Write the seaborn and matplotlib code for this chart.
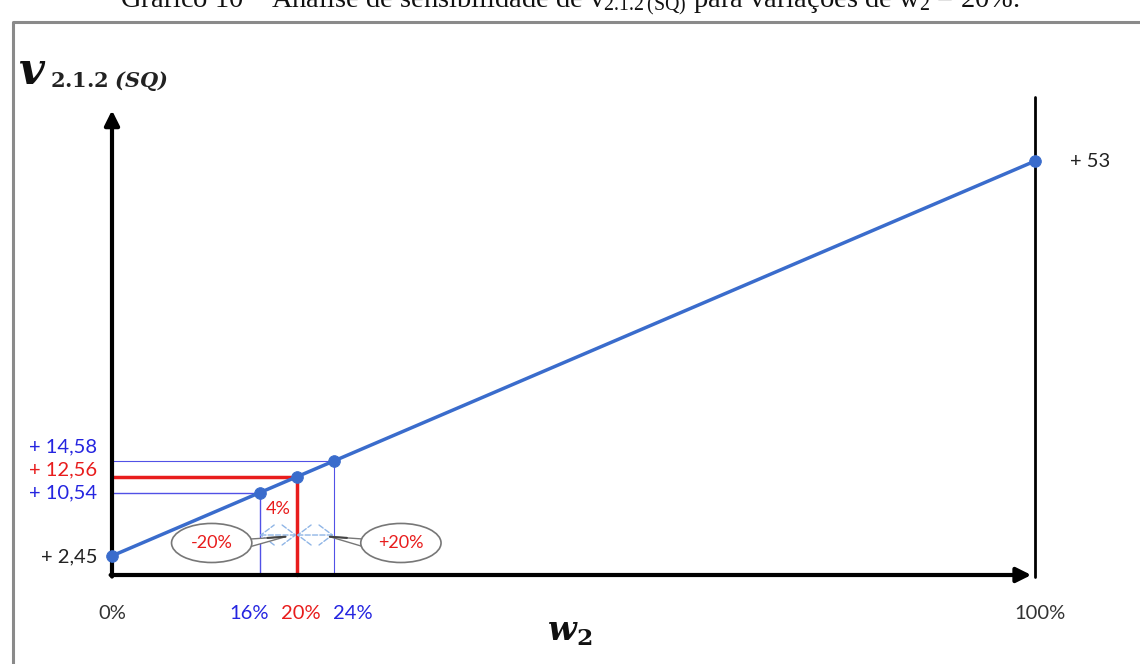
import matplotlib
matplotlib.use("Agg")
import matplotlib.pyplot as plt
import seaborn as sns
import pandas as pd
from matplotlib.patches import Ellipse, Polygon

# data
w2 = [0, 16, 20, 24, 100]
v212 = [2.45, 10.54, 12.56, 14.58, 53]
x_labels = ["0%", "16%", "20%", "24%", "100%"]
x_label_colors = ["#333333", "#2525e0", "#e81c1c", "#2525e0", "#333333"]
y_labels = ["+ 2,45", "+ 10,54", "+ 12,56", "+ 14,58"]
y_label_colors = ["#222222", "#2525e0", "#e81c1c", "#2525e0"]
y_label_pos = [2.3, 10.5, 13.45, 16.4]

df = pd.DataFrame({"w2": w2, "v": v212})

sns.set_theme(style="white")
plt.rcParams["font.family"] = ["Lato", "DejaVu Sans"]
plt.rcParams["mathtext.fontset"] = "dejavuserif"

BLUE = "#3a6ccc"
TXT_BLUE = "#2525e0"
RED = "#e81c1c"
LIGHT = "#8fb5e6"

fig = plt.figure(figsize=(11.4, 6.64), dpi=100)
ax = fig.add_axes([0, 0, 1, 1])
# pixel mapping: x=0 at px 112, 9.23 px per %, y=0 at py 575, 7.81 px per unit
ax.set_xlim(-112 / 9.23, (1140 - 112) / 9.23)
ax.set_ylim((575 - 664) / 7.81, 575 / 7.81)
ax.axis("off")

# outer frame
ax.plot([0.011, 0.011, 1.0], [0.0, 0.967, 0.967], transform=ax.transAxes,
        color="#8a8a8a", lw=2.2, clip_on=False)

# title, partly cut at the top edge (as in the source)
fig.text(0.5, 0.988, "Gráfico 10 – Análise de sensibilidade de $\\mathregular{v_{2.1.2\\,(SQ)}}$ para variações de $\\mathregular{w_2}$ = 20%.",
         ha="center", va="baseline", fontsize=20.5, family="Liberation Serif", color="#111111")

# guide lines
ax.plot([0, 24, 24], [14.58, 14.58, 0], color=TXT_BLUE, lw=0.8, alpha=0.8)
ax.plot([0, 16, 16], [10.54, 10.54, 0], color=TXT_BLUE, lw=1.0, alpha=0.8)
ax.plot([0, 20, 20], [12.56, 12.56, 0], color=RED, lw=2.5)

# axes arrows
ax.annotate("", xy=(0, 59.5), xytext=(0, -0.2),
            arrowprops=dict(arrowstyle="-|>", lw=3, color="black", mutation_scale=22, shrinkA=0, shrinkB=0))
ax.annotate("", xy=(99.6, 0), xytext=(-0.15, 0),
            arrowprops=dict(arrowstyle="-|>", lw=3, color="black", mutation_scale=22, shrinkA=0, shrinkB=0))
ax.plot([100, 100], [-0.2, 61.2], color="black", lw=2)

# main line and points
sns.lineplot(data=df, x="w2", y="v", ax=ax, color=BLUE, lw=2.5, legend=False)
sns.scatterplot(data=df, x="w2", y="v", ax=ax, color=BLUE, s=70, edgecolor=BLUE, zorder=5, legend=False)

# value labels
for lab, col, yp in zip(y_labels, y_label_colors, y_label_pos):
    ax.text(-1.6, yp, lab, ha="right", va="center", fontsize=14.5, color=col)
ax.text(103.8, 53, "+ 53", ha="left", va="center", fontsize=14.5, color="#222222")

x_label_pos = [0, 14.9, 20.5, 26.1, 100.5]
for lab, col, xp in zip(x_labels, x_label_colors, x_label_pos):
    ax.text(xp, -4.87, lab, ha="center", va="center", fontsize=14.5, color=col)

# axis titles
ax.text(-10.2, 64.5, r"$\mathbfit{v}$", ha="left", va="center", fontsize=32, color="#111111")
ax.text(-6.7, 63.2, r"$\mathbf{2.1.2}\ \mathbfit{(SQ)}$", ha="left", va="center", fontsize=15, color="#222222")
ax.text(49.6, -7.4, r"$\mathbfit{w}_{\mathbf{2}}$", ha="center", va="center", fontsize=24, color="#111111")

# variation markers
ax.text(18.0, 8.45, "4%", ha="center", va="center", fontsize=13, color=RED)
for a, b in [(16, 20), (20, 24)]:
    ax.annotate("", xy=(b, 5.12), xytext=(a, 5.12),
                arrowprops=dict(arrowstyle="<->,head_length=0.8,head_width=0.6", ls="--",
                                lw=1, color=LIGHT, shrinkA=0, shrinkB=0))

# callouts
for cx, lab, tail in [(10.8, "-20%", [(14.9, 4.6), (14.9, 3.6), (18.8, 4.9)]),
                      (31.3, "+20%", [(27.3, 4.6), (27.3, 3.6), (23.6, 4.9)])]:
    ax.add_patch(Polygon(tail, closed=True, facecolor="white", edgecolor="#777777", lw=1, zorder=3))
    ax.add_patch(Ellipse((cx, 4.1), 8.7, 5.0, facecolor="white", edgecolor="#777777", lw=1.2, zorder=4))
    ax.text(cx, 4.1, lab, ha="center", va="center", fontsize=13, color=RED, zorder=6)
    ax.plot([tail[2][0], (tail[0][0] + tail[2][0]) / 2], [4.9, 4.75], color="#444444", lw=1.5, zorder=3)

fig.savefig("out.png", dpi=100)
